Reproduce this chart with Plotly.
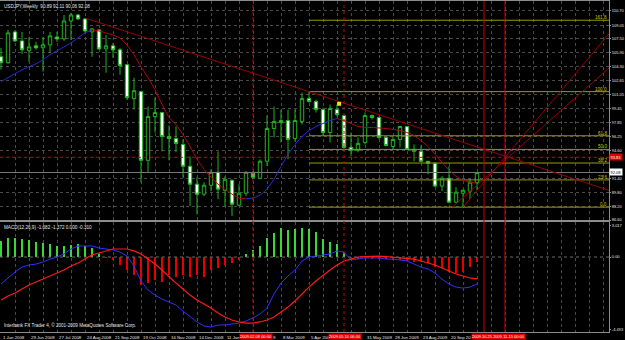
import plotly.graph_objects as go

# ---------------- data ----------------
title_text = "USDJPY,Weekly  90.89 92.11 90.06 92.08"
macd_text = "MACD(12,26,9) -1.682 -1.372 0.000 -0.310"
copyright_text = "Interbank FX Trader 4, \u00a9 2001-2009 MetaQuotes Software Corp."

opens = [105.42, 104.73, 108.29, 107.25, 106.11, 106.68, 106.45, 106.79, 107.71, 107.48,
         109.55, 110.24, 109.78, 108.29, 108.52, 106.33, 106.68, 106.22, 104.50, 100.60,
         101.40, 93.48, 98.53, 98.99, 96.23, 96.00, 95.31, 92.79, 90.73, 89.58,
         90.61, 92.10, 90.03, 91.18, 88.31, 89.69, 91.99, 91.41, 93.37, 97.15,
         97.84, 98.07, 96.00, 97.96, 100.60, 100.25, 99.33, 96.69, 99.33, 98.64,
         94.97, 94.63, 95.54, 98.64, 98.41, 96.12, 95.08, 95.89, 97.38, 94.51,
         94.51, 93.37, 93.14, 90.51, 91.41, 88.66, 89.69, 89.92, 90.89]
highs = [106.45, 108.52, 108.52, 108.29, 107.71, 107.14, 107.71, 108.29, 108.29, 110.24,
         110.47, 110.35, 109.90, 108.75, 108.63, 107.94, 107.02, 106.45, 104.55, 103.01,
         101.51, 99.68, 100.71, 99.05, 97.50, 97.38, 95.89, 93.94, 91.53, 90.96,
         92.45, 94.51, 91.64, 91.30, 90.73, 92.22, 92.22, 93.60, 98.64, 99.68,
         99.33, 99.33, 99.33, 101.28, 101.40, 100.48, 99.56, 99.91, 99.91, 98.76,
         96.69, 96.12, 98.99, 98.76, 98.53, 96.23, 96.23, 97.38, 97.40, 95.31,
         95.20, 93.40, 93.25, 91.64, 92.79, 90.38, 90.10, 91.30, 92.11]
lows = [103.93, 104.61, 107.14, 105.76, 104.84, 106.22, 103.70, 105.88, 107.14, 107.25,
        107.37, 109.67, 108.17, 105.42, 106.22, 103.58, 105.30, 103.35, 100.48, 99.33,
        90.96, 92.10, 96.69, 94.51, 93.48, 94.40, 91.53, 88.20, 87.28, 89.35,
        89.92, 89.00, 88.20, 87.05, 88.20, 89.35, 91.30, 91.30, 92.79, 96.12,
        95.54, 93.60, 95.66, 97.61, 100.14, 98.99, 96.35, 95.54, 98.53, 94.74,
        93.94, 94.40, 95.31, 98.19, 95.89, 95.08, 94.74, 94.97, 94.63, 93.37,
        93.25, 91.87, 90.38, 89.92, 88.55, 88.55, 88.08, 89.00, 90.06]
closes = [104.73, 108.17, 107.25, 106.22, 106.56, 106.45, 106.79, 107.83, 107.48, 109.55,
          110.24, 109.78, 108.40, 108.63, 106.33, 106.68, 106.22, 104.39, 100.71, 101.51,
          93.48, 98.53, 98.99, 96.23, 96.00, 95.43, 92.79, 90.73, 89.58, 90.61,
          92.10, 90.15, 91.30, 88.43, 89.69, 92.10, 91.53, 93.37, 97.15, 97.96,
          98.07, 95.89, 98.07, 100.60, 100.25, 99.33, 96.69, 99.45, 98.76, 94.97,
          94.63, 95.43, 98.64, 98.41, 96.12, 95.20, 95.89, 97.38, 94.74, 94.74,
          93.37, 93.14, 90.51, 91.41, 88.66, 89.81, 90.03, 90.96, 92.08]

ma_values = [102.55, 103.01, 103.47, 103.93, 104.27, 104.61, 105.07, 105.65, 106.11, 106.56,
             107.02, 107.60, 108.17, 108.52, 108.40, 108.17, 107.94, 107.60, 106.79, 105.65,
             104.27, 103.01, 101.63, 99.91, 98.41, 97.61, 96.46, 95.08, 93.60, 92.45,
             91.53, 90.73, 90.15, 89.58, 89.12, 89.06, 89.12, 89.46, 90.15, 91.30,
             92.79, 94.17, 95.31, 96.23, 96.92, 97.38, 97.73, 98.07, 98.30, 98.07,
             97.73, 97.38, 97.27, 97.27, 97.21, 97.15, 97.04, 96.92, 96.69, 96.35,
             95.77, 95.08, 94.17, 93.25, 92.33, 91.64, 91.18, 90.96, 90.84]

macd_main = [-1.69, -1.31, -0.94, -0.63, -0.50, -0.44, -0.31, -0.13, 0.00, 0.19,
             0.50, 0.69, 0.69, 0.69, 0.56, 0.50, 0.44, 0.31, 0.06, -0.56,
             -1.50, -2.06, -2.38, -2.63, -2.81, -3.00, -3.38, -3.75, -4.06, -4.31,
             -4.38, -4.25, -4.25, -4.19, -4.13, -4.00, -3.81, -3.56, -3.19, -2.31,
             -1.63, -1.19, -0.81, -0.25, 0.00, 0.06, 0.13, 0.19, 0.38, 0.31,
             -0.19, -0.13, -0.06, -0.06, -0.06, -0.13, -0.13, -0.19, -0.25, -0.44,
             -0.63, -0.75, -1.00, -1.38, -1.69, -1.88, -1.94, -1.88, -1.68]
macd_signal = [-2.69, -2.44, -2.25, -2.00, -1.75, -1.56, -1.38, -1.19, -1.00, -0.81,
               -0.56, -0.38, -0.13, 0.13, 0.25, 0.38, 0.50, 0.50, 0.50, 0.38,
               0.19, -0.13, -0.44, -0.81, -1.25, -1.63, -2.00, -2.38, -2.69, -2.94,
               -3.19, -3.50, -3.75, -3.94, -4.06, -4.13, -4.13, -4.06, -3.94, -3.75,
               -3.44, -3.13, -2.75, -2.31, -1.88, -1.50, -1.13, -0.81, -0.50, -0.25,
               -0.13, 0.00, 0.03, 0.06, 0.06, 0.03, 0.00, -0.03, -0.06, -0.13,
               -0.25, -0.38, -0.50, -0.69, -0.88, -1.06, -1.19, -1.31, -1.37]
macd_hist = [1.00, 1.19, 1.19, 1.13, 1.06, 0.94, 0.88, 0.81, 0.69, 0.69,
             0.75, 0.81, 0.69, 0.56, 0.19, -0.06, -0.19, -0.50, -0.81, -1.13,
             -1.75, -1.63, -1.44, -1.56, -1.13, -1.25, -1.13, -1.25, -1.13, -1.25,
             -0.81, -0.69, -0.50, -0.38, -0.19, 0.16, 0.44, 0.69, 1.19, 1.50,
             1.81, 1.69, 1.75, 1.81, 1.75, 1.56, 1.13, 0.94, 0.81, 0.31,
             -0.06, -0.13, -0.06, -0.13, -0.13, -0.13, -0.19, -0.19, -0.25, -0.31,
             -0.31, -0.38, -0.63, -0.69, -0.94, -1.00, -0.94, -0.63, -0.31]

# time-axis labels as far as they are visible in the picture
date_tick_bars = [0, 4, 8, 12, 16, 20, 24, 28, 32, 40, 44, 52, 56, 60, 64]
date_tick_text = ["1 Jun 2008", "29 Jun 2008", "27 Jul 2008", "24 Aug 2008", "21 Sep 2008",
                  "19 Oct 2008", "16 Nov 2008", "14 Dec 2008", "11 Jan", "8 Mar 2009",
                  "5 Apr 200", "31 May 2009", "28 Jun 2009", "23 Aug 2009", "20 Sep 20"]
fragment_bar, fragment_text = 38.5, "9"

price_ticks = [110.70, 109.05, 107.50, 105.90, 104.30, 102.65, 101.05, 99.45, 97.85,
               96.25, 94.60, 91.40, 89.80, 88.20, 86.60]
macd_tick_pos = [1.94, 0.0, -4.56]
macd_tick_text = ["3.017", "0.00", "-4.493"]

fib_ratios = [0.0, 23.6, 38.2, 50.0, 61.8, 100.0, 161.8]
fib_low, fib_high, fib_start_bar = 88.08, 101.40, 44

vline_bars = [36, 49, 69, 72]
vline_dash = ["dot", "dot", "solid", "solid"]
vlabel_bars = [36.4, 49.1, 71.1]
vlabel_text = ["2009.02.08 00:00", "2009.05.10 00:00", "2009.10.25 2009.11.15 00:00"]

level_price = 93.83       # red horizontal line
bid_price = 92.08         # grey bid line
trend_pts = [(12, 109.90), (44, 101.40)]
fan_a_pts = [(66, 88.08), (72, 93.83)]
fan_b_pts = [(68.67, 91.10), (81.76, 100.48)]
marker_bar, marker_price = 48.3, 100.0   # small yellow object

# ---------------- layout constants ----------------
W, H = 625, 340
RIGHT = 609
X0, X1 = -1 / 7, (RIGHT - 1) / 7
def py(px):
    return 1 - px / H
MAIN_DOM = [py(220), py(1)]
MACD_DOM = [py(332), py(222)]
P_RANGE = [86.60, 111.85]
M_RANGE = [-4.6875, 2.1875]

GREEN = "#1fb51f"
GRID = "#4a4a4a"
FRAME = "#8c8c8c"
FONT = "Liberation Sans"
FS = 4.6
FSD = 4.3
FSA = 4.0
bars = list(range(len(opens)))

fig = go.Figure()

fib_prices = [fib_low + r / 100 * (fib_high - fib_low) for r in fib_ratios]
for r, p in zip(fib_ratios, fib_prices):
    fig.add_trace(go.Scatter(x=[fib_start_bar, X1], y=[p, p], mode="lines",
                             line=dict(color="#9a9a00", width=1), hoverinfo="skip",
                             showlegend=False, xaxis="x", yaxis="y"))

fig.add_trace(go.Scatter(x=[X0, X1], y=[bid_price, bid_price], mode="lines",
                         line=dict(color="#7a7a7a", width=1), showlegend=False,
                         xaxis="x", yaxis="y"))
fig.add_trace(go.Scatter(x=[X0, X1], y=[level_price, level_price], mode="lines",
                         line=dict(color="#d00000", width=1, dash="dot"), showlegend=False,
                         xaxis="x", yaxis="y"))

def extend(pts, xa, xb):
    (ax, ay), (bx, by) = pts
    s = (by - ay) / (bx - ax)
    return [xa, xb], [ay + s * (xa - ax), ay + s * (xb - ax)]

def start_at_price(pts, price):
    (ax, ay), (bx, by) = pts
    s = (by - ay) / (bx - ax)
    return ax + (price - ay) / s

tx, ty = extend(trend_pts, trend_pts[0][0], X1)
fig.add_trace(go.Scatter(x=tx, y=ty, mode="lines", line=dict(color="#9a0000", width=1),
                         showlegend=False, xaxis="x", yaxis="y"))
ax_, ay_ = extend(fan_a_pts, fan_a_pts[0][0], X1)
fig.add_trace(go.Scatter(x=ax_, y=ay_, mode="lines", line=dict(color="#9a0000", width=1),
                         showlegend=False, xaxis="x", yaxis="y"))
bstart = start_at_price(fan_b_pts, fib_low)
bx_, by_ = extend(fan_b_pts, bstart, X1)
fig.add_trace(go.Scatter(x=bx_, y=by_, mode="lines", line=dict(color="#9a0000", width=1),
                         showlegend=False, xaxis="x", yaxis="y"))

bxs, bys, rxs, rys = [], [], [], []
for i in range(len(ma_values) - 1):
    if ma_values[i + 1] >= ma_values[i]:
        bxs += [i, i + 1, None]; bys += [ma_values[i], ma_values[i + 1], None]
    else:
        rxs += [i, i + 1, None]; rys += [ma_values[i], ma_values[i + 1], None]
fig.add_trace(go.Scatter(x=bxs, y=bys, mode="lines", line=dict(color="#2a2ad0", width=1),
                         showlegend=False, xaxis="x", yaxis="y"))
fig.add_trace(go.Scatter(x=rxs, y=rys, mode="lines", line=dict(color="#a80a0a", width=1),
                         showlegend=False, xaxis="x", yaxis="y"))

fig.add_trace(go.Candlestick(
    x=bars, open=opens, high=highs, low=lows, close=closes,
    increasing=dict(line=dict(color=GREEN, width=1), fillcolor="black"),
    decreasing=dict(line=dict(color=GREEN, width=1), fillcolor="white"),
    whiskerwidth=0, showlegend=False, xaxis="x", yaxis="y"))

fig.add_trace(go.Scatter(x=[marker_bar], y=[marker_price], mode="markers",
                         marker=dict(symbol="square", color="#e8e800", size=4),
                         showlegend=False, xaxis="x", yaxis="y"))

hist_colors = ["#38d838" if v >= 0 else "#e80000" for v in macd_hist]
fig.add_trace(go.Bar(x=bars, y=macd_hist, marker=dict(color=hist_colors, line=dict(width=0)),
                     width=0.28, showlegend=False, xaxis="x2", yaxis="y2"))
fig.add_trace(go.Scatter(x=[X0, X1], y=[0, 0], mode="lines",
                         line=dict(color="#6a6a6a", width=1, dash="dot"), showlegend=False,
                         xaxis="x2", yaxis="y2"))
fig.add_trace(go.Scatter(x=bars, y=macd_main, mode="lines", line=dict(color="#2f2fff", width=1),
                         showlegend=False, xaxis="x2", yaxis="y2"))
fig.add_trace(go.Scatter(x=bars, y=macd_signal, mode="lines", line=dict(color="#ff1a1a", width=1.2),
                         showlegend=False, xaxis="x2", yaxis="y2"))

shapes = []
for b, d in zip(vline_bars, vline_dash):
    shapes.append(dict(type="line", xref="x", yref="paper", x0=b, x1=b,
                       y0=MACD_DOM[0], y1=MAIN_DOM[1],
                       line=dict(color="#c80000", width=1, dash=d)))

annotations = []
txt = dict(family=FONT, size=FS, color="#e6e6e6")
dtxt = dict(family=FONT, size=FSD, color="#e6e6e6")
annotations.append(dict(text=title_text, xref="paper", yref="paper", x=0.004, y=py(2),
                        xanchor="left", yanchor="top", showarrow=False, font=txt))
annotations.append(dict(text=macd_text, xref="paper", yref="paper", x=0.004, y=py(223),
                        xanchor="left", yanchor="top", showarrow=False, font=txt))
annotations.append(dict(text=copyright_text, xref="paper", yref="paper", x=0.004, y=py(330),
                        xanchor="left", yanchor="bottom", showarrow=False, font=txt))
for b, t in zip(date_tick_bars, date_tick_text):
    annotations.append(dict(text=t, xref="x2", yref="paper", x=b, y=py(332.5),
                            xanchor="left", yanchor="top", showarrow=False, font=dtxt))
annotations.append(dict(text=fragment_text, xref="x2", yref="paper", x=fragment_bar, y=py(332.5),
                        xanchor="left", yanchor="top", showarrow=False, font=dtxt))
for b, t in zip(vlabel_bars, vlabel_text):
    annotations.append(dict(text=t, xref="x2", yref="paper", x=b, y=py(332.5),
                            xanchor="center", yanchor="top", showarrow=False,
                            bgcolor="#e00000", borderpad=0,
                            font=dict(family=FONT, size=FSA, color="white")))
for r, p in zip(fib_ratios, fib_prices):
    annotations.append(dict(text="%.1f" % r, xref="paper", yref="y", x=1, y=p,
                            xanchor="right", yanchor="bottom", showarrow=False,
                            xshift=-1, yshift=-1, borderpad=0,
                            font=dict(family=FONT, size=FS, color="#c8c800")))
annotations.append(dict(text="%.2f" % level_price, xref="paper", yref="y", x=1, y=level_price,
                        xanchor="left", yanchor="middle", showarrow=False, xshift=0,
                        bgcolor="#e00000", borderpad=0.5,
                        font=dict(family=FONT, size=FSA, color="white")))
annotations.append(dict(text="%.2f" % bid_price, xref="paper", yref="y", x=1, y=bid_price,
                        xanchor="left", yanchor="middle", showarrow=False, xshift=0,
                        bgcolor="white", borderpad=0.5,
                        font=dict(family=FONT, size=FSA, color="black")))

axis_common = dict(showgrid=True, gridcolor=GRID, griddash="dot", gridwidth=1,
                   zeroline=False, showline=True, mirror=True, linecolor=FRAME, linewidth=1)

fig.update_layout(
    width=W, height=H,
    margin=dict(l=0, r=W - RIGHT, t=0, b=0, autoexpand=False),
    paper_bgcolor="black", plot_bgcolor="black",
    showlegend=False, bargap=0, boxgap=0.3,
    xaxis=dict(domain=[0, 1], range=[X0, X1], anchor="y", tick0=0, dtick=2,
               showticklabels=False, ticks="", rangeslider=dict(visible=False),
               **axis_common),
    yaxis=dict(domain=MAIN_DOM, range=P_RANGE, anchor="x", side="right",
               tickvals=price_ticks, ticktext=["%.2f" % v for v in price_ticks],
               ticks="outside", ticklen=1, tickcolor=FRAME, ticklabelstandoff=0,
               tickfont=dict(family=FONT, size=FSA, color="#e6e6e6"), automargin=False,
               **axis_common),
    xaxis2=dict(domain=[0, 1], range=[X0, X1], anchor="y2", matches="x", tick0=0, dtick=2,
                showticklabels=False, ticks="", rangeslider=dict(visible=False),
                **axis_common),
    yaxis2=dict(domain=MACD_DOM, range=M_RANGE, anchor="x2", side="right",
                tickvals=macd_tick_pos, ticktext=macd_tick_text, showgrid=False,
                zeroline=False, showline=True, mirror=True, linecolor=FRAME,
                ticks="outside", ticklen=1, tickcolor=FRAME, ticklabelstandoff=0,
                tickfont=dict(family=FONT, size=FSA, color="#e6e6e6"), automargin=False),
    shapes=shapes, annotations=annotations,
)

fig.write_html("out.html")
